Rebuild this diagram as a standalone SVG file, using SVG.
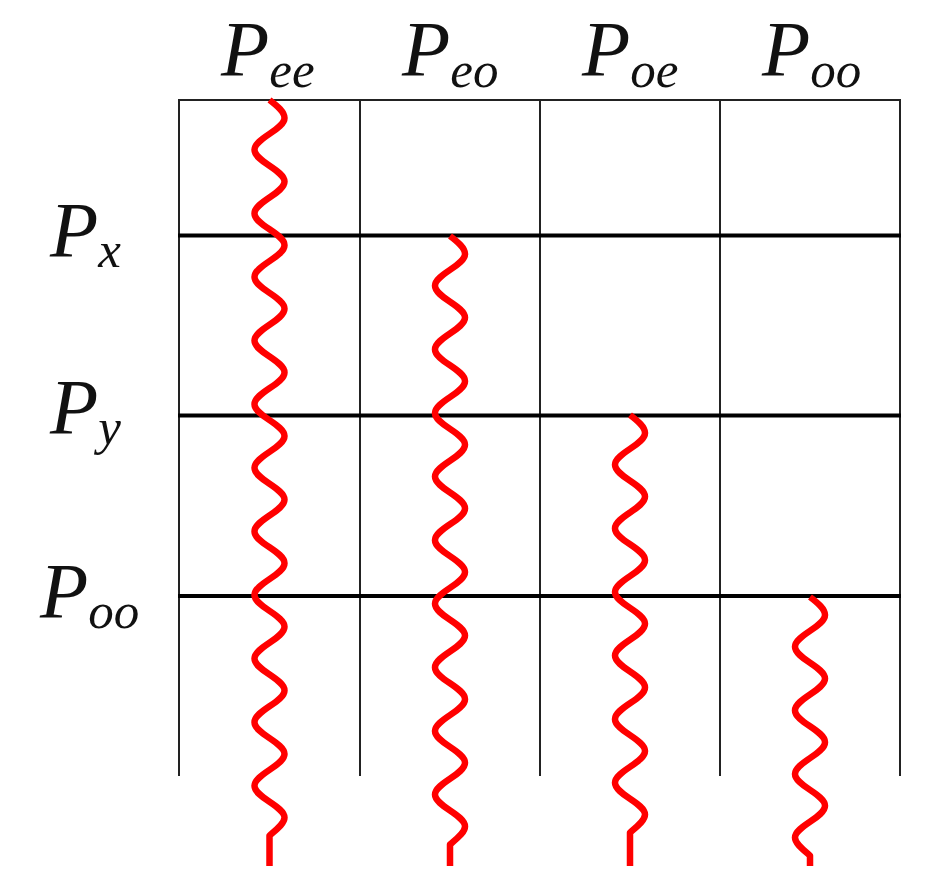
<svg xmlns="http://www.w3.org/2000/svg" width="936" height="873" viewBox="0 0 936 873">
<style>
.lbl{font-family:"Liberation Serif","Times New Roman",serif;font-style:italic;font-size:79px;fill:#111}
.sub{font-size:51px}
.vl{stroke:#222;stroke-width:2;fill:none}
.hl{stroke:#000;stroke-width:4;fill:none}
.tl{stroke:#222;stroke-width:2;fill:none}
.wave{stroke:#f00;stroke-width:6.5;fill:none;stroke-linecap:butt;stroke-linejoin:round}
</style>
<rect width="936" height="873" fill="#fff"/>
<g id="grid">
<line class="tl" x1="178" y1="100" x2="901" y2="100"/>
<line class="vl" x1="179" y1="99" x2="179" y2="776"/>
<line class="vl" x1="360" y1="99" x2="360" y2="776"/>
<line class="vl" x1="540" y1="99" x2="540" y2="776"/>
<line class="vl" x1="720" y1="99" x2="720" y2="776"/>
<line class="vl" x1="900" y1="99" x2="900" y2="776"/>
<line class="hl" x1="178" y1="235.5" x2="901" y2="235.5"/>
<line class="hl" x1="178" y1="415.5" x2="901" y2="415.5"/>
<line class="hl" x1="178" y1="596" x2="901" y2="596"/>
</g>
<g id="col-labels">
<g id="label-Pee"><text class="lbl" x="221" y="75">P<tspan class="sub" dy="12">ee</tspan></text></g>
<g id="label-Peo"><text class="lbl" x="402" y="75">P<tspan class="sub" dy="12">eo</tspan></text></g>
<g id="label-Poe"><text class="lbl" x="582" y="75">P<tspan class="sub" dy="12">oe</tspan></text></g>
<g id="label-Poo-top"><text class="lbl" x="762" y="75">P<tspan class="sub" dy="12">oo</tspan></text></g>
</g>
<g id="row-labels">
<g id="label-Px"><text class="lbl" x="50" y="256">P<tspan class="sub" dy="11">x</tspan></text></g>
<g id="label-Py"><text class="lbl" x="50" y="433">P<tspan class="sub" dy="11">y</tspan></text></g>
<g id="label-Poo-left"><text class="lbl" x="40" y="617">P<tspan class="sub" dy="11">oo</tspan></text></g>
</g>
<g id="connectors">
<path id="wave-ee" class="wave" d="M269.5,100 c8,6 15,12 15,18 c0,11.56 -30,20.24 -30,31.8 s30,20.24 30,31.8 s-30,20.24 -30,31.8 s30,20.24 30,31.8 s-30,20.24 -30,31.8 s30,20.24 30,31.8 s-30,20.24 -30,31.8 s30,20.24 30,31.8 s-30,20.24 -30,31.8 s30,20.24 30,31.8 s-30,20.24 -30,31.8 s30,20.24 30,31.8 s-30,20.24 -30,31.8 s30,20.24 30,31.8 s-30,20.24 -30,31.8 s30,20.24 30,31.8 s-30,20.24 -30,31.8 s30,20.24 30,31.8 s-30,20.24 -30,31.8 s30,20.24 30,31.8 s-30,20.24 -30,31.8 s30,20.24 30,31.8 c0,6 -8,12 -15,18 V866"/>
<path id="wave-eo" class="wave" d="M450,236 c8,6 15,12 15,18 c0,11.56 -30,20.24 -30,31.8 s30,20.24 30,31.8 s-30,20.24 -30,31.8 s30,20.24 30,31.8 s-30,20.24 -30,31.8 s30,20.24 30,31.8 s-30,20.24 -30,31.8 s30,20.24 30,31.8 s-30,20.24 -30,31.8 s30,20.24 30,31.8 s-30,20.24 -30,31.8 s30,20.24 30,31.8 s-30,20.24 -30,31.8 s30,20.24 30,31.8 s-30,20.24 -30,31.8 s30,20.24 30,31.8 s-30,20.24 -30,31.8 s30,20.24 30,31.8 c0,6 -8,12 -15,18 V866"/>
<path id="wave-oe" class="wave" d="M630,415 c8,6 15,12 15,18 c0,11.56 -30,20.24 -30,31.8 s30,20.24 30,31.8 s-30,20.24 -30,31.8 s30,20.24 30,31.8 s-30,20.24 -30,31.8 s30,20.24 30,31.8 s-30,20.24 -30,31.8 s30,20.24 30,31.8 s-30,20.24 -30,31.8 s30,20.24 30,31.8 s-30,20.24 -30,31.8 s30,20.24 30,31.8 c0,6 -8,12 -15,18 V866"/>
<path id="wave-oo" class="wave" d="M810,597 c8,6 15,12 15,18 c0,11.56 -30,20.24 -30,31.8 s30,20.24 30,31.8 s-30,20.24 -30,31.8 s30,20.24 30,31.8 s-30,20.24 -30,31.8 s30,20.24 30,31.8 s-30,20.24 -30,31.8 c0,6 8,12 15,18 V866"/>
</g>
</svg>
